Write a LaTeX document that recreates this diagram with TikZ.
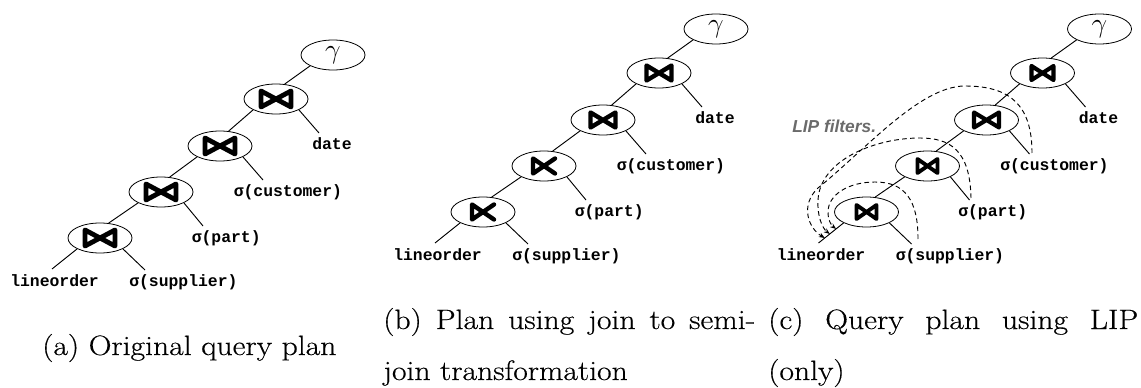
\documentclass[tikz,border=0pt]{standalone}
\usepackage{fontspec}
\newfontfamily\labelfont{Liberation Mono}
\newfontfamily\lipfont{Liberation Sans}
\newfontfamily\capfont{Latin Modern Roman}[FakeStretch=1.13, FakeBold=0.4]
\usetikzlibrary{shapes.geometric,arrows.meta}

\tikzset{
  opnode/.style={draw, ellipse, line width=0.6pt, minimum width=48pt,
    minimum height=22.5pt, inner sep=0pt},
  treeedge/.style={line width=0.7pt},
  leaf/.style={inner sep=0pt, anchor=base west,
    font=\labelfont\bfseries\fontsize{12.3}{13}\selectfont},
  lipflow/.style={dash pattern=on 3.5pt off 2.5pt, line width=0.7pt,
    -{Stealth[length=4.5pt,width=3.5pt]}},
  liplabel/.style={inner sep=0pt, anchor=base west, text=black!58,
    font=\lipfont\bfseries\itshape\fontsize{13}{14}\selectfont},
  caption/.style={inner sep=0pt, anchor=base west,
    font=\capfont\fontsize{21}{38.25}\selectfont},
}

% join symbol drawn inside an operator node: node, half width, half height, stroke
\newcommand\joinsym[4]{%
  \draw[line width=#4, line join=round, line cap=round]
    ([shift={(-#2,-#3)}]#1.center) -- ([shift={(#2,#3)}]#1.center)
    -- ([shift={(#2,-#3)}]#1.center) -- ([shift={(-#2,#3)}]#1.center) -- cycle;}
% left semi-join symbol
\newcommand\semijoinsym[4]{%
  \draw[line width=#4, line join=round, line cap=round]
    ([shift={(#2,-#3)}]#1.center) -- ([shift={(-#2,#3)}]#1.center)
    -- ([shift={(-#2,-#3)}]#1.center) -- ([shift={(#2,#3)}]#1.center);}

% left-deep plan: prefix, position of the aggregation node
\newcommand\plantree[3]{%
  \begin{scope}[shift={(#2,#3)}]
    \node[opnode] (#1g) at (0,0) {\fontsize{22}{22}\selectfont$\gamma$};
    \node[opnode] (#1j1) at (-57,44) {};
    \node[opnode] (#1j2) at (-113,91) {};
    \node[opnode] (#1j3) at (-172,137) {};
    \node[opnode] (#1j4) at (-233,183) {};
    \node[leaf] (#1date) at (-21,94.5) {date};
    \node[leaf] (#1cust) at (-99.5,142) {σ(customer)};
    \node[leaf] (#1part) at (-141.5,188) {σ(part)};
    \node[leaf] (#1line) at (-323,231.5) {lineorder};
    \node[leaf] (#1supp) at (-204,231.5) {σ(supplier)};
    \coordinate (#1e1) at (-14,78);
    \coordinate (#1e2) at (-70,125);
    \coordinate (#1e3) at (-130,171);
    \coordinate (#1e4) at (-188,215);
    \coordinate (#1e5) at (-281,214);
  \end{scope}
  \draw[treeedge] (#1g.south west) -- (#1j1.60);
  \draw[treeedge] (#1j1.south west) -- (#1j2.60);
  \draw[treeedge] (#1j2.south west) -- (#1j3.60);
  \draw[treeedge] (#1j3.south west) -- (#1j4.60);
  \draw[treeedge] (#1j1.south east) -- (#1e1);
  \draw[treeedge] (#1j2.south east) -- (#1e2);
  \draw[treeedge] (#1j3.south east) -- (#1e3);
  \draw[treeedge] (#1j4.south east) -- (#1e4);
  \draw[treeedge] (#1j4.south west) -- (#1e5);
}

\begin{document}
\begin{tikzpicture}[x=0.75pt, y=-0.75pt]
  \useasboundingbox (0,0) rectangle (1141,388);

  % (a) original plan
  \plantree{a}{333}{55}
  \joinsym{aj1}{15}{8}{3.6pt}
  \joinsym{aj2}{15}{8}{3.6pt}
  \joinsym{aj3}{15}{8}{3.6pt}
  \joinsym{aj4}{15}{8}{3.6pt}

  % (b) joins turned into semi-joins
  \plantree{b}{716}{29}
  \joinsym{bj1}{12.5}{7.5}{3.3pt}
  \joinsym{bj2}{12.5}{7.5}{3.3pt}
  \semijoinsym{bj3}{11}{7.5}{3.3pt}
  \semijoinsym{bj4}{11}{7.5}{3.3pt}

  % (c) plan with LIP filters
  \plantree{c}{1099.5}{29}
  \joinsym{cj1}{11}{7}{3.1pt}
  \joinsym{cj2}{12.5}{7.5}{3.1pt}
  \joinsym{cj3}{10}{7}{2.9pt}
  \joinsym{cj4}{10}{7}{2.9pt}

  \coordinate (cs1) at (1032,153);
  \coordinate (cs2) at (971,198);
  \coordinate (cs3) at (918,239);
  \path (cj4.south west) -- (ce5)
    coordinate[pos=0.3] (ct3) coordinate[pos=0.55] (ct2) coordinate[pos=0.75] (ct1);

  \draw[lipflow] (cs1) .. controls (1032,105) and (1010,86) .. (965,86)
    .. controls (920,86) and (865,150) .. (818,188)
    .. controls (800,205) and (808,228) .. (ct1);
  \draw[lipflow] (cs2) .. controls (970,150) and (950,138) .. (920,138)
    .. controls (875,138) and (820,160) .. (818,200)
    .. controls (817,215) and (822,228) .. (ct2);
  \draw[lipflow] (cs3) .. controls (918,200) and (905,182) .. (875,182)
    .. controls (848,182) and (828,195) .. (828,212)
    .. controls (828,220) and (831,225) .. (ct3);
  \node[liplabel] (lip) at (792,133) {LIP filters.};

  % captions
  \node[caption] (capa) at (42,355) {(a) Original query plan};
  \node[caption] (capb) at (383,329)
    {\parbox[t]{282pt}{\makebox[279pt][s]{(b) Plan using join to semi-}\\join transformation}};
  \node[caption] (capc) at (768,329)
    {\parbox[t]{280pt}{\makebox[277.5pt][s]{(c) Query plan using LIP}\\(only)}};
\end{tikzpicture}
\end{document}
